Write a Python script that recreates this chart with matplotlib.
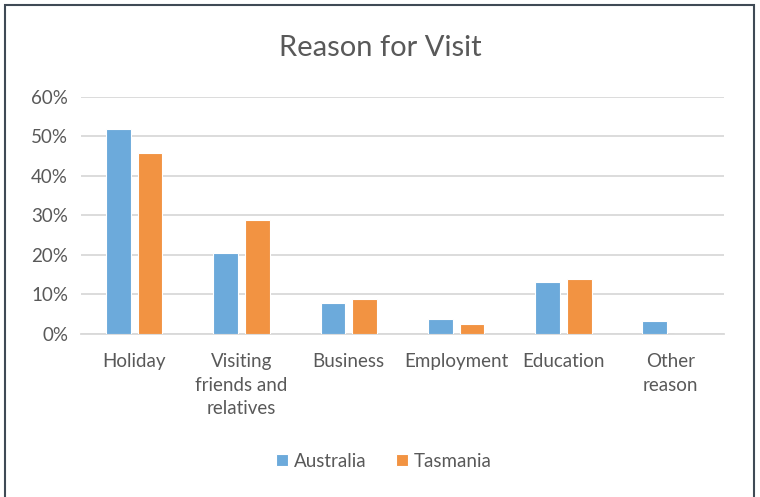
import matplotlib.pyplot as plt
import numpy as np
from matplotlib.patches import Rectangle
from matplotlib.ticker import PercentFormatter

categories = ['Holiday', 'Visiting\nfriends and\nrelatives', 'Business',
              'Employment', 'Education', 'Other\nreason']
australia = [52.0, 20.4, 7.9, 3.7, 13.2, 3.4]
tasmania = [45.7, 28.9, 8.9, 2.6, 13.8, 0.0]

plt.rcParams['font.family'] = ['Lato', 'DejaVu Sans']
grey = '#595959'

fig = plt.figure(figsize=(7.6, 4.97), dpi=100)
ax = fig.add_axes([0.106, 0.328, 0.847, 0.477])

x = np.arange(len(categories))
w = 0.23
ax.bar(x - 0.148, australia, w, color='#6CAADB', edgecolor='white', linewidth=0.8,
       label='Australia', zorder=3)
ax.bar(x + 0.148, tasmania, w, color='#F29342', edgecolor='white', linewidth=0.8,
       label='Tasmania', zorder=3)

ax.set_xlim(-0.5, len(categories) - 0.5)
ax.set_ylim(0, 60)
ax.set_yticks(range(0, 61, 10))
ax.yaxis.set_major_formatter(PercentFormatter(decimals=0))
ax.set_xticks(x)
ax.set_xticklabels(categories, linespacing=1.45)
ax.tick_params(length=0, labelsize=13.5, labelcolor=grey)
ax.tick_params(axis='x', pad=14)
ax.tick_params(axis='y', pad=9)
for lbl in ax.get_yticklabels():
    lbl.set_horizontalalignment('right')

ax.grid(axis='y', color='#D9D9D9', linewidth=1.3, zorder=0)
for s in ['top', 'right', 'left']:
    ax.spines[s].set_visible(False)
ax.spines['bottom'].set_color('#D9D9D9')
ax.spines['bottom'].set_linewidth(1.3)

fig.text(0.5, 0.903, 'Reason for Visit', ha='center', va='center',
         fontsize=21, color=grey)

fig.legend(loc='center', bbox_to_anchor=(0.505, 0.072), ncol=2, frameon=False,
           fontsize=13.5, labelcolor=grey, handlelength=0.65, handleheight=0.65,
           handletextpad=0.3, columnspacing=1.6)

fig.patches.append(Rectangle((0.007, -0.05), 0.985, 1.04, transform=fig.transFigure,
                             fill=False, edgecolor='#3F4A55', linewidth=1.5))

fig.savefig('out.png', dpi=100, facecolor='white')
